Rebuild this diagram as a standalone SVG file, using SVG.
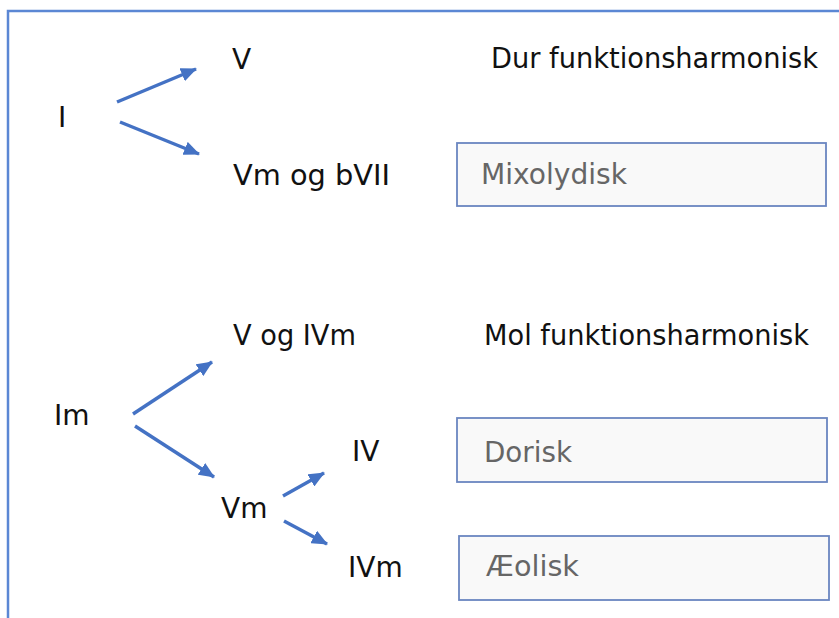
<svg xmlns="http://www.w3.org/2000/svg" width="839" height="618" viewBox="0 0 839 618">
<style>
.t{font-family:"DejaVu Sans","Liberation Sans",sans-serif;font-size:28px;fill:#111}
.g{font-family:"DejaVu Sans","Liberation Sans",sans-serif;font-size:28px;fill:#666}
.box{fill:#f9f9f9;stroke:#6a86c0;stroke-width:1.8}
.c{stroke:#4472c4;stroke-width:3.5;fill:none;marker-end:url(#ah)}
</style>
<defs>
<marker id="ah" markerUnits="userSpaceOnUse" markerWidth="16" markerHeight="14" refX="15" refY="7" orient="auto">
<path d="M0,0 L16,7 L0,14 Z" fill="#4472c4"/>
</marker>
</defs>
<rect width="839" height="618" fill="#fff"/>
<path d="M8,620 L8,11 L841,11" fill="none" stroke="#5b87d4" stroke-width="2.5"/>
<g id="connectors">
<line class="c" x1="117" y1="102" x2="196" y2="69"/>
<line class="c" x1="120" y1="122" x2="199" y2="154"/>
<line class="c" x1="133" y1="414" x2="212" y2="362"/>
<line class="c" x1="135" y1="426" x2="214" y2="477"/>
<line class="c" x1="283" y1="496" x2="324" y2="473"/>
<line class="c" x1="284" y1="521" x2="327" y2="544"/>
</g>
<g id="n-I"><text class="t" x="58" y="127">I</text></g>
<g id="n-V"><text class="t" x="232" y="69">V</text></g>
<g id="n-VmbVII"><text class="t" x="233" y="185" textLength="157" lengthAdjust="spacingAndGlyphs">Vm og bVII</text></g>
<g id="n-dur"><text class="t" x="491" y="68" textLength="327" lengthAdjust="spacingAndGlyphs">Dur funktionsharmonisk</text></g>
<g id="n-mixo"><rect class="box" x="457" y="143" width="369" height="63"/><text class="g" x="481" y="184" textLength="146" lengthAdjust="spacingAndGlyphs">Mixolydisk</text></g>
<g id="n-Im"><text class="t" x="54" y="425">Im</text></g>
<g id="n-VIVm"><text class="t" x="233" y="345" textLength="123" lengthAdjust="spacingAndGlyphs">V og IVm</text></g>
<g id="n-mol"><text class="t" x="484" y="345" textLength="325" lengthAdjust="spacingAndGlyphs">Mol funktionsharmonisk</text></g>
<g id="n-Vm"><text class="t" x="221" y="518">Vm</text></g>
<g id="n-IV"><text class="t" x="352" y="461">IV</text></g>
<g id="n-IVm"><text class="t" x="348" y="577">IVm</text></g>
<g id="n-dorisk"><rect class="box" x="457" y="418" width="370" height="64"/><text class="g" x="484" y="462" textLength="88" lengthAdjust="spacingAndGlyphs">Dorisk</text></g>
<g id="n-aeolisk"><rect class="box" x="459" y="536" width="370" height="64"/><text class="g" x="486" y="576" textLength="93" lengthAdjust="spacingAndGlyphs">Æolisk</text></g>
</svg>
